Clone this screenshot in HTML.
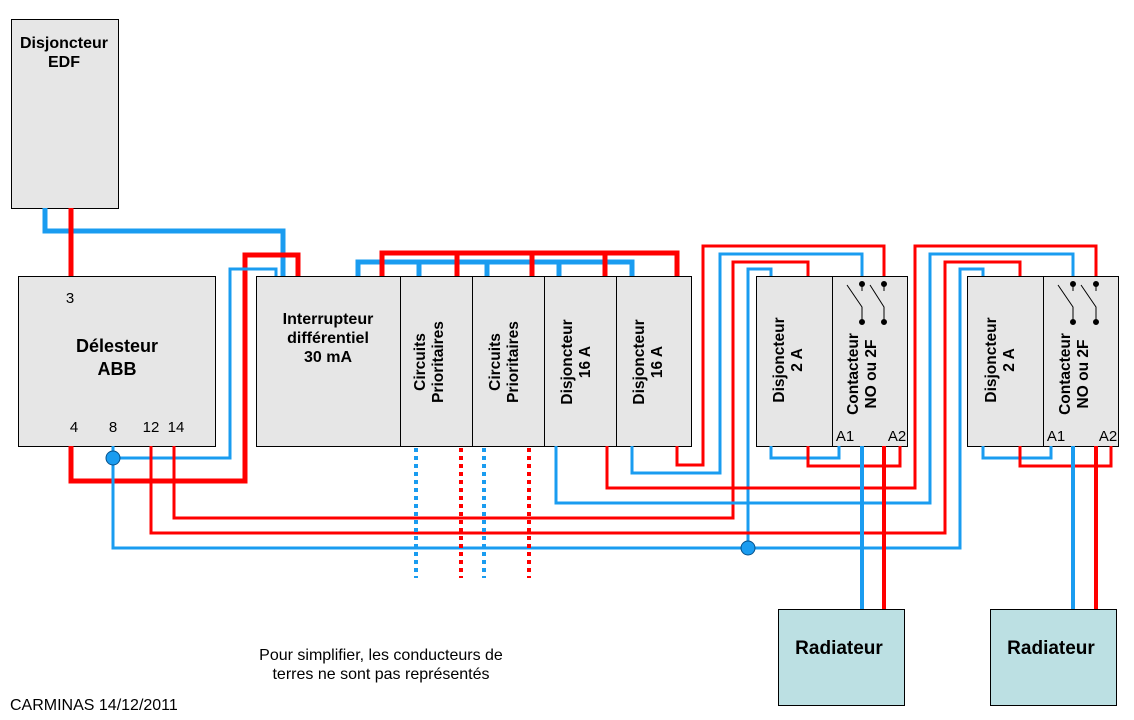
<!DOCTYPE html>
<html><head><meta charset="utf-8"><style>
html,body{margin:0;padding:0;background:#fff;}
svg{display:block;font-family:"Liberation Sans",Arial,sans-serif;}
</style></head><body>
<svg width="1134" height="720" viewBox="0 0 1134 720" xmlns="http://www.w3.org/2000/svg">
<g fill="#e6e6e6" stroke="#000" stroke-width="1">
<rect x="11.5" y="19.5" width="107" height="189"/>
<rect x="18.5" y="276.5" width="197" height="170"/>
<rect x="256.5" y="276.5" width="435" height="170"/>
<rect x="756.5" y="276.5" width="151" height="170"/>
<rect x="967.5" y="276.5" width="151" height="170"/>
<rect x="778.5" y="609.5" width="126" height="96" fill="#bce0e3"/>
<rect x="990.5" y="609.5" width="126" height="96" fill="#bce0e3"/>
</g>
<g stroke="#000" stroke-width="1">
<line x1="400.5" y1="276" x2="400.5" y2="446"/>
<line x1="472.5" y1="276" x2="472.5" y2="446"/>
<line x1="544.5" y1="276" x2="544.5" y2="446"/>
<line x1="616.5" y1="276" x2="616.5" y2="446"/>
<line x1="832.5" y1="276" x2="832.5" y2="446"/>
<line x1="1043.5" y1="276" x2="1043.5" y2="446"/>
</g>
<g fill="none" stroke-linejoin="miter">
<path d="M45 208 V231 H283 V276" stroke="#1a9cf0" stroke-width="5"/>
<path d="M71 208 V276" stroke="#f00" stroke-width="5"/>
<path d="M71 446 V481 H245 V255 H298 V276" stroke="#f00" stroke-width="5"/>
<path d="M358 276 V262 H632 V276 M419 262 V276 M487 262 V276 M559 262 V276" stroke="#1a9cf0" stroke-width="5"/>
<path d="M382 276 V253 H677 V276 M457 253 V276 M532 253 V276 M605 253 V276" stroke="#f00" stroke-width="5"/>
<path d="M113 458 H230 V269 H276 V276" stroke="#1a9cf0" stroke-width="3"/>
<path d="M113 446 V548 H960 V269 H983 V276" stroke="#1a9cf0" stroke-width="3"/>
<path d="M748 548 V269 H771 V276" stroke="#1a9cf0" stroke-width="3"/>
<path d="M151 446 V533 H945 V262 H1020 V276" stroke="#f00" stroke-width="3"/>
<path d="M174 446 V518 H733 V262 H808 V276" stroke="#f00" stroke-width="3"/>
<path d="M556 446 V503 H930 V254 H1073 V276" stroke="#1a9cf0" stroke-width="3"/>
<path d="M607 446 V488 H915 V246 H1096 V276" stroke="#f00" stroke-width="3"/>
<path d="M632 446 V473 H720 V254 H862 V276" stroke="#1a9cf0" stroke-width="3"/>
<path d="M677 446 V465 H703 V246 H884 V276" stroke="#f00" stroke-width="3"/>
<path d="M771 446 V458 H839 V446" stroke="#1a9cf0" stroke-width="3"/>
<path d="M808 446 V466 H900 V446" stroke="#f00" stroke-width="3"/>
<path d="M983 446 V458 H1051 V446" stroke="#1a9cf0" stroke-width="3"/>
<path d="M1020 446 V466 H1111 V446" stroke="#f00" stroke-width="3"/>
<path d="M862 446 V609 M1073 446 V609" stroke="#1a9cf0" stroke-width="4"/>
<path d="M884 446 V609 M1096 446 V609" stroke="#f00" stroke-width="4"/>
<path d="M416 448 V578 M484 448 V578" stroke="#1a9cf0" stroke-width="4" stroke-dasharray="4 4"/>
<path d="M461 448 V578 M529 448 V578" stroke="#f00" stroke-width="4" stroke-dasharray="4 4"/>
</g>
<circle cx="113" cy="458" r="7" fill="#1a9cf0" stroke="#05508a" stroke-width="1"/>
<circle cx="748" cy="548" r="7" fill="#1a9cf0" stroke="#05508a" stroke-width="1"/>
<g stroke="#000" stroke-width="1" fill="#000">
<path d="M847 285 L862 307 V322 M870 285 L884 307 V322 M862 284 V291 M884 284 V291" fill="none"/>
<circle cx="862" cy="284" r="2.5"/><circle cx="884" cy="284" r="2.5"/>
<circle cx="862" cy="322" r="2.5"/><circle cx="884" cy="322" r="2.5"/>
<path d="M1058 285 L1073 307 V322 M1081 285 L1096 307 V322 M1073 284 V291 M1096 284 V291" fill="none"/>
<circle cx="1073" cy="284" r="2.5"/><circle cx="1096" cy="284" r="2.5"/>
<circle cx="1073" cy="322" r="2.5"/><circle cx="1096" cy="322" r="2.5"/>
</g>
<g fill="#000" font-size="15" text-anchor="middle">
<text x="64" y="48" font-size="16" font-weight="bold">Disjoncteur</text>
<text x="64" y="67" font-size="16" font-weight="bold">EDF</text>
<text x="117" y="352" font-size="18" font-weight="bold">Délesteur</text>
<text x="117" y="375" font-size="18" font-weight="bold">ABB</text>
<text x="70" y="303">3</text>
<text x="74" y="432">4</text>
<text x="113" y="432">8</text>
<text x="151" y="432">12</text>
<text x="176" y="432">14</text>
<g font-size="16" font-weight="bold">
<text x="328" y="324">Interrupteur</text>
<text x="328" y="343">différentiel</text>
<text x="328" y="362">30 mA</text>
</g>
<g font-weight="bold" font-size="15.5">
<text transform="translate(425,362) rotate(-90)">Circuits</text>
<text transform="translate(443,362) rotate(-90)">Prioritaires</text>
<text transform="translate(500,362) rotate(-90)">Circuits</text>
<text transform="translate(518,362) rotate(-90)">Prioritaires</text>
<text transform="translate(572,362) rotate(-90)">Disjoncteur</text>
<text transform="translate(590,362) rotate(-90)">16 A</text>
<text transform="translate(644,362) rotate(-90)">Disjoncteur</text>
<text transform="translate(662,362) rotate(-90)">16 A</text>
<text transform="translate(784,360) rotate(-90)">Disjoncteur</text>
<text transform="translate(802,360) rotate(-90)">2 A</text>
<text transform="translate(858,374) rotate(-90)">Contacteur</text>
<text transform="translate(876,374) rotate(-90)">NO ou 2F</text>
<text transform="translate(996,360) rotate(-90)">Disjoncteur</text>
<text transform="translate(1014,360) rotate(-90)">2 A</text>
<text transform="translate(1070,374) rotate(-90)">Contacteur</text>
<text transform="translate(1088,374) rotate(-90)">NO ou 2F</text>
</g>
<text x="845" y="441">A1</text>
<text x="897" y="441">A2</text>
<text x="1056" y="441">A1</text>
<text x="1108" y="441">A2</text>
<text x="839" y="654" font-size="19" font-weight="bold">Radiateur</text>
<text x="1051" y="654" font-size="19" font-weight="bold">Radiateur</text>
<text x="381" y="660" font-size="16">Pour simplifier, les conducteurs de</text>
<text x="381" y="679" font-size="16">terres ne sont pas représentés</text>
<text x="10" y="710" font-size="16" text-anchor="start">CARMINAS 14/12/2011</text>
</g>
</svg>
</body></html>
